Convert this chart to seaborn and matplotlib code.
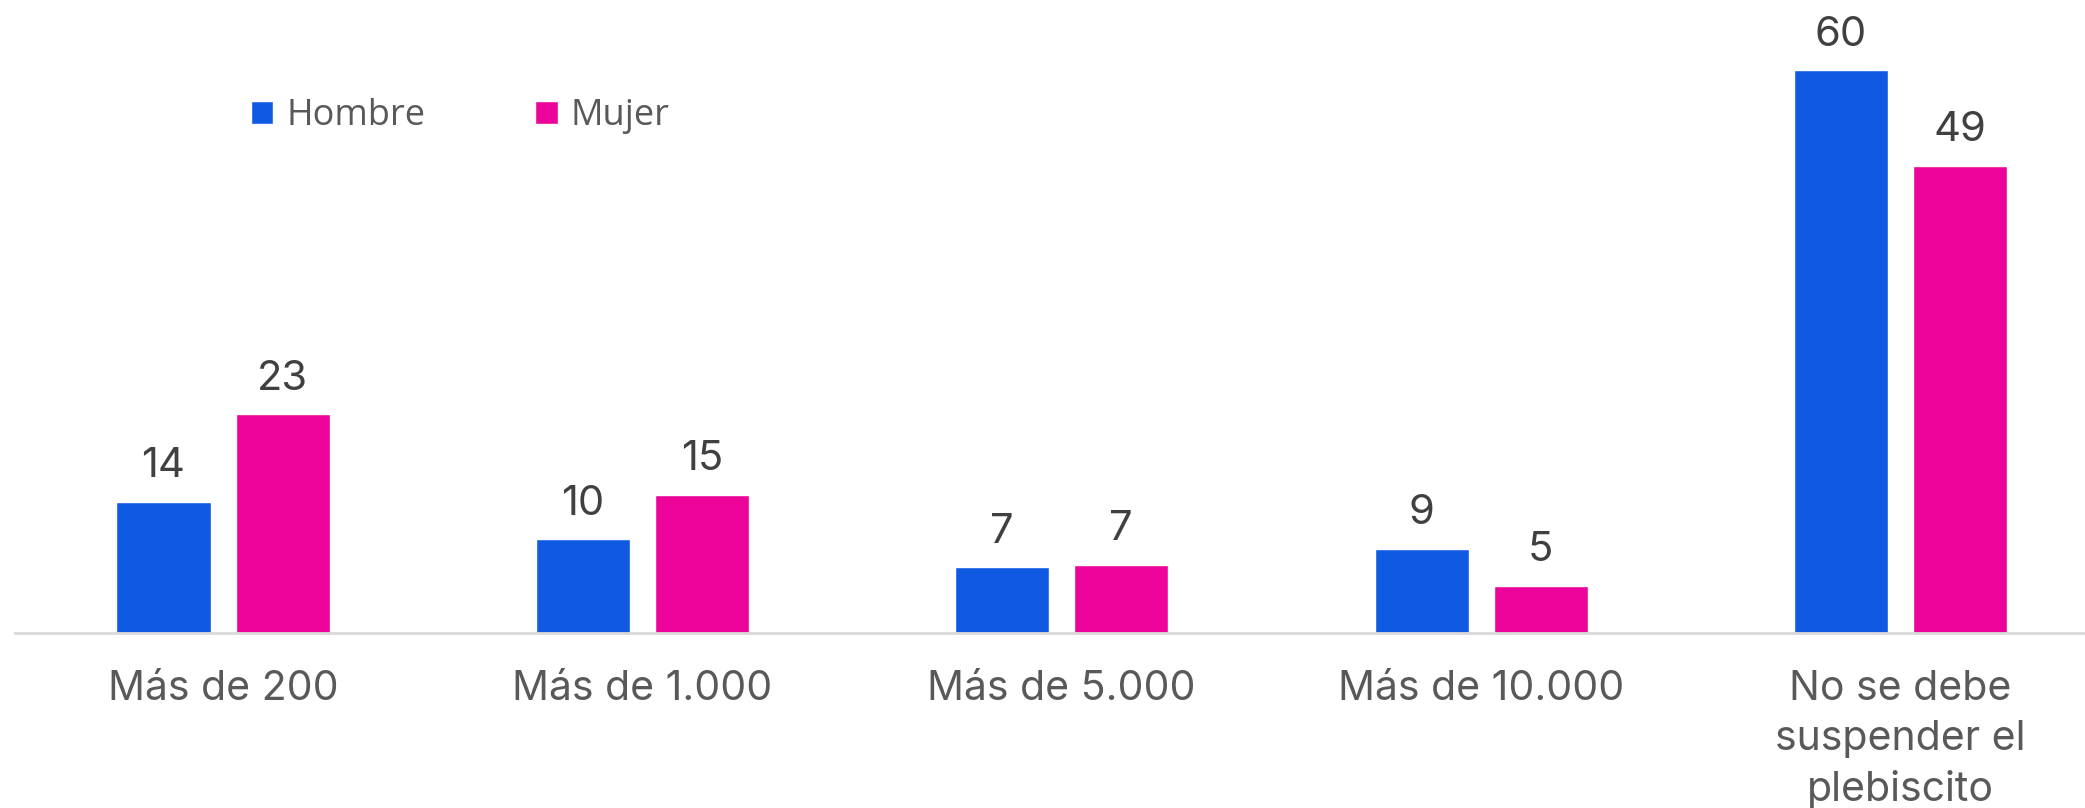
import pandas as pd
import matplotlib
matplotlib.use('Agg')
import matplotlib.pyplot as plt
import seaborn as sns

categories = ['Más de 200', 'Más de 1.000', 'Más de 5.000', 'Más de 10.000',
              'No se debe\nsuspender el\nplebiscito']
hombre = [14, 10, 7, 9, 60]
mujer = [23.3, 14.7, 7.3, 5, 49.8]
hombre_labels = ['14', '10', '7', '9', '60']
mujer_labels = ['23', '15', '7', '5', '49']
series = ['Hombre', 'Mujer']
colors = ['#105ae3', '#ec0399']

df = pd.DataFrame({
    'categoria': categories * 2,
    'valor': hombre + mujer,
    'sexo': [series[0]] * len(categories) + [series[1]] * len(categories),
})

sns.set_style('white')
plt.rcParams['font.family'] = ['Inter', 'DejaVu Sans']

fig = plt.figure(figsize=(20.85, 8.08), dpi=100)
ax = fig.add_axes([0.007, 0.2166, 0.993, 0.7834])

sns.barplot(data=df, x='categoria', y='valor', hue='sexo', palette=colors,
            width=0.568, gap=0.21, ax=ax, saturation=1, legend=True)

for cont, labs in zip(ax.containers, [hombre_labels, mujer_labels]):
    ax.bar_label(cont, labels=labs, padding=12, fontsize=30, color='#404040')

ax.set_xlim(-0.497, 4.44)
ax.set_ylim(0, 67.5)
ax.set_xlabel('')
ax.set_ylabel('')
ax.set_yticks([])
for s in ['top', 'right', 'left']:
    ax.spines[s].set_visible(False)
ax.spines['bottom'].set_color('#d9d9d9')
ax.spines['bottom'].set_linewidth(2)
ax.tick_params(axis='x', length=0, pad=27, labelsize=29.5, labelcolor='#595959')
for lbl in ax.get_xticklabels():
    lbl.set_linespacing(1.38)

handles, labels = ax.get_legend_handles_labels()
ax.legend(handles, labels, loc='upper left', bbox_to_anchor=(251 / 2085, 1 - 98 / 808),
          bbox_transform=fig.transFigure, ncol=2, frameon=False,
          handlelength=0.62, handleheight=0.62, handletextpad=0.35, columnspacing=3.05,
          borderpad=0, borderaxespad=0,
          prop={'family': 'Open Sans', 'size': 26})
for t in ax.get_legend().get_texts():
    t.set_color('#595959')

fig.savefig('out.png', dpi=100)
